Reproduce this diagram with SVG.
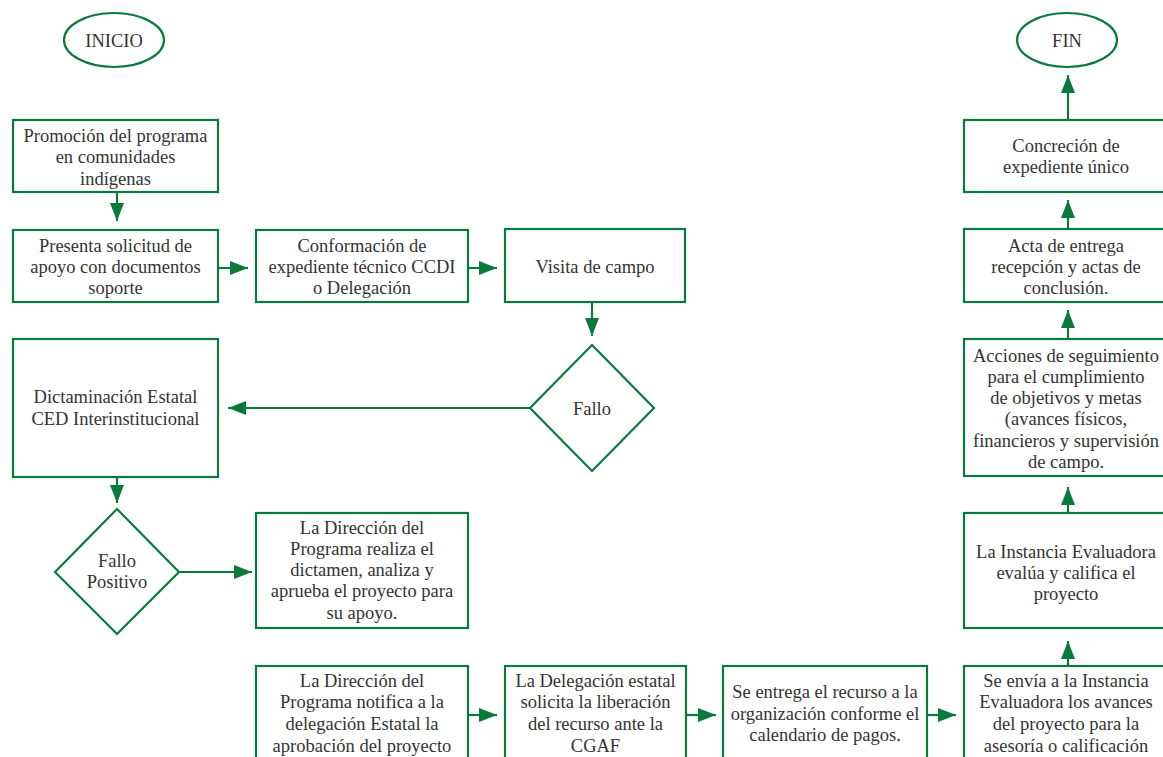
<svg xmlns="http://www.w3.org/2000/svg" width="1163" height="757" viewBox="0 0 1163 757">
<style>
.n{fill:#fff;stroke:#0a7a3c;stroke-width:2.2}
.c{stroke:#0a7a3c;stroke-width:2.2;fill:none}
.t text{font-size:18.5px;fill:#333;text-anchor:middle}
</style>
<defs>
<marker id="ah" markerUnits="userSpaceOnUse" markerWidth="18" markerHeight="14" refX="18" refY="7" orient="auto">
<path d="M0,0 L18,7 L0,14 z" fill="#0a7a3c"/>
</marker>
</defs>
<rect width="1163" height="757" fill="#fff"/>
<g id="connectors">
<line class="c" x1="117" y1="192" x2="117" y2="221" marker-end="url(#ah)"/>
<line class="c" x1="218" y1="268" x2="248" y2="268" marker-end="url(#ah)"/>
<line class="c" x1="468" y1="268" x2="497" y2="268" marker-end="url(#ah)"/>
<line class="c" x1="592" y1="302" x2="592" y2="336" marker-end="url(#ah)"/>
<line class="c" x1="530" y1="408" x2="228" y2="408" marker-end="url(#ah)"/>
<line class="c" x1="117" y1="477" x2="117" y2="503" marker-end="url(#ah)"/>
<line class="c" x1="179" y1="572" x2="252" y2="572" marker-end="url(#ah)"/>
<line class="c" x1="468" y1="715" x2="497" y2="715" marker-end="url(#ah)"/>
<line class="c" x1="686" y1="715" x2="716" y2="715" marker-end="url(#ah)"/>
<line class="c" x1="927" y1="715" x2="956" y2="715" marker-end="url(#ah)"/>
<line class="c" x1="1068" y1="666" x2="1068" y2="641" marker-end="url(#ah)"/>
<line class="c" x1="1068" y1="513" x2="1068" y2="487" marker-end="url(#ah)"/>
<line class="c" x1="1068" y1="339" x2="1068" y2="310" marker-end="url(#ah)"/>
<line class="c" x1="1068" y1="229" x2="1068" y2="200" marker-end="url(#ah)"/>
<line class="c" x1="1068" y1="120" x2="1068" y2="75" marker-end="url(#ah)"/>
</g>
<g class="t" font-family="'Liberation Serif', 'Times New Roman', serif">
<g id="inicio"><ellipse class="n" cx="114" cy="40" rx="50" ry="27"/><text x="114" y="47">INICIO</text></g>
<g id="fin"><ellipse class="n" cx="1067" cy="40" rx="50" ry="27"/><text x="1067" y="47">FIN</text></g>
<g id="promocion"><rect class="n" x="13" y="120" width="205" height="72"/>
<text x="115.5" y="142">Promoción del programa</text><text x="115.5" y="163">en comunidades</text><text x="115.5" y="185">indígenas</text></g>
<g id="presenta"><rect class="n" x="13" y="230" width="205" height="72"/>
<text x="115.5" y="252">Presenta solicitud de</text><text x="115.5" y="273">apoyo con documentos</text><text x="115.5" y="294">soporte</text></g>
<g id="conformacion"><rect class="n" x="256" y="230" width="212" height="72"/>
<text x="362" y="252">Conformación de</text><text x="362" y="273">expediente técnico CCDI</text><text x="362" y="294">o Delegación</text></g>
<g id="visita"><rect class="n" x="505" y="229" width="180" height="73"/>
<text x="595" y="273">Visita de campo</text></g>
<g id="fallo"><polygon class="n" points="592,345 654,408 592,471 530,408"/>
<text x="592" y="415">Fallo</text></g>
<g id="dictaminacion"><rect class="n" x="13" y="339" width="205" height="138"/>
<text x="115.5" y="403">Dictaminación Estatal</text><text x="115.5" y="425">CED Interinstitucional</text></g>
<g id="fallo-positivo"><polygon class="n" points="117,509 179,572 117,634 55,572"/>
<text x="117" y="567">Fallo</text><text x="117" y="588">Positivo</text></g>
<g id="direccion-realiza"><rect class="n" x="256" y="513" width="212" height="115"/>
<text x="362" y="534">La Dirección del</text><text x="362" y="555">Programa realiza el</text><text x="362" y="576">dictamen, analiza y</text><text x="362" y="597">aprueba el proyecto para</text><text x="362" y="619">su apoyo.</text></g>
<g id="direccion-notifica"><rect class="n" x="256" y="666" width="212" height="115"/>
<text x="362" y="687">La Dirección del</text><text x="362" y="708">Programa notifica a la</text><text x="362" y="730">delegación Estatal la</text><text x="362" y="752">aprobación del proyecto</text></g>
<g id="delegacion"><rect class="n" x="505" y="666" width="181" height="115"/>
<text x="595.5" y="687">La Delegación estatal</text><text x="595.5" y="708">solicita la liberación</text><text x="595.5" y="730">del recurso ante la</text><text x="595.5" y="752">CGAF</text></g>
<g id="entrega"><rect class="n" x="723" y="666" width="204" height="115"/>
<text x="825" y="698">Se entrega el recurso a la</text><text x="825" y="720">organización conforme el</text><text x="825" y="741">calendario de pagos.</text></g>
<g id="envia"><rect class="n" x="964" y="666" width="205" height="115"/>
<text x="1066" y="687">Se envía a la Instancia</text><text x="1066" y="708">Evaluadora los avances</text><text x="1066" y="730">del proyecto para la</text><text x="1066" y="752">asesoría o calificación</text></g>
<g id="instancia"><rect class="n" x="964" y="513" width="205" height="115"/>
<text x="1066" y="558">La Instancia Evaluadora</text><text x="1066" y="579">evalúa y califica el</text><text x="1066" y="600">proyecto</text></g>
<g id="acciones"><rect class="n" x="964" y="339" width="205" height="137"/>
<text x="1066" y="362">Acciones de seguimiento</text><text x="1066" y="383">para el cumplimiento</text><text x="1066" y="404">de objetivos y metas</text><text x="1066" y="425">(avances físicos,</text><text x="1066" y="447">financieros y supervisión</text><text x="1066" y="468">de campo.</text></g>
<g id="acta"><rect class="n" x="964" y="229" width="205" height="73"/>
<text x="1066" y="252">Acta de entrega</text><text x="1066" y="273">recepción y actas de</text><text x="1066" y="294">conclusión.</text></g>
<g id="concrecion"><rect class="n" x="964" y="120" width="205" height="72"/>
<text x="1066" y="152">Concreción de</text><text x="1066" y="173">expediente único</text></g>
</g>
</svg>
